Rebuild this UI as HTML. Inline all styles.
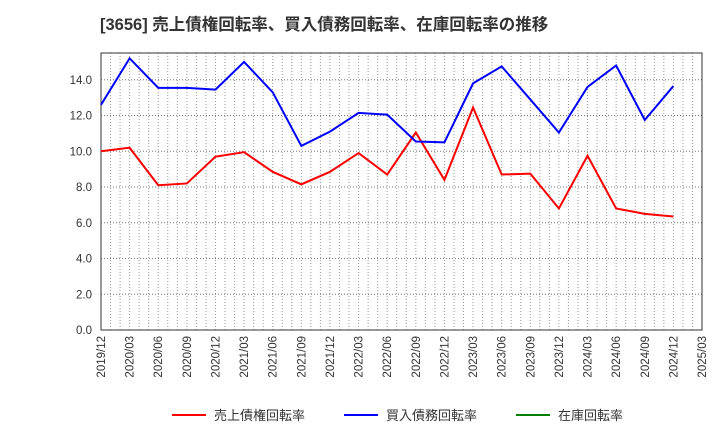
<!DOCTYPE html>
<html><head><meta charset="utf-8"><style>
body{margin:0;background:#fff;font-family:"Liberation Sans","Noto Sans CJK JP",sans-serif;}
</style></head><body>
<svg id="chart" width="720" height="440" xmlns="http://www.w3.org/2000/svg">
<text x="100" y="30" font-size="16.5" font-weight="bold" fill="#333" font-family="Liberation Sans, Noto Sans CJK JP, sans-serif">[3656]  売上債権回転率、買入債務回転率、在庫回転率の推移</text>
<g id="grid"></g><g id="axes"></g><g id="series"></g><g id="legend"></g>
</svg>
<script>
const xLabels=["2019/12","2020/03","2020/06","2020/09","2020/12","2021/03","2021/06","2021/09","2021/12","2022/03","2022/06","2022/09","2022/12","2023/03","2023/06","2023/09","2023/12","2024/03","2024/06","2024/09","2024/12","2025/03"];
const yTicks=[0,2,4,6,8,10,12,14];
const receivables=[10.0,10.2,8.1,8.2,9.7,9.95,8.85,8.15,8.85,9.9,8.7,11.05,8.4,12.45,8.7,8.75,6.8,9.75,6.8,6.5,6.35];
const payables=[12.6,15.2,13.55,13.55,13.45,15.0,13.3,10.3,11.1,12.15,12.05,10.55,10.5,13.8,14.75,12.9,11.05,13.6,14.8,11.75,13.65];
const inventory=[];
const L=101,R=702,T=53,B=330,yMax=15.5;
const NS="http://www.w3.org/2000/svg";
const xq=i=>L+(R-L)*i/(xLabels.length-1);
const xm=m=>L+(R-L)*m/((xLabels.length-1)*3);
const y=v=>B-(B-T)*v/yMax;
function mk(t,a,p){const e=document.createElementNS(NS,t);for(const k in a)e.setAttribute(k,a[k]);p.appendChild(e);return e;}
const grid=document.getElementById('grid'),axes=document.getElementById('axes'),ser=document.getElementById('series'),leg=document.getElementById('legend');
for(let m=1;m<(xLabels.length-1)*3;m++){
 const g=mk('line',{x1:xm(m),x2:xm(m),y1:T,y2:B,stroke:'#999','stroke-width':1,'stroke-dasharray':'1,2'},grid);
 
 
}
yTicks.forEach(v=>{
 if(v>0){const g=mk('line',{x1:L,x2:R,y1:y(v),y2:y(v),stroke:'#777','stroke-width':1,'stroke-dasharray':'1,2'},grid);
 
 }
 const t=mk('text',{x:L-9,y:y(v)+4,'text-anchor':'end','font-size':11.5,fill:'#333'},axes);t.textContent=v.toFixed(1);
 
 
});
xLabels.forEach((s,i)=>{
 const t=mk('text',{transform:`translate(${xq(i)+4},336) rotate(-90)`,'text-anchor':'end','font-size':11.5,fill:'#333'},axes);t.textContent=s;
 
 
});
const f=mk('rect',{x:L,y:T,width:R-L,height:B-T,fill:'none',stroke:'#333','stroke-width':1},axes);


function line(arr,c,name){if(!arr.length)return;
 const p=mk('polyline',{points:arr.map((v,i)=>xq(i)+','+y(v)).join(' '),fill:'none',stroke:c,'stroke-width':2},ser);
 
 }
line(receivables,'#ff0000','receivables-turnover-line');
line(payables,'#0000ff','payables-turnover-line');
line(inventory,'#008000','inventory-turnover-line');
[["売上債権回転率",'#ff0000',172],["買入債務回転率",'#0000ff',344],["在庫回転率",'#008000',516]].forEach(([s,c,x])=>{
 const g=mk('g',{},leg);
 
 
 mk('line',{x1:x,x2:x+34,y1:415,y2:415,stroke:c,'stroke-width':2},g);
 const t=mk('text',{x:x+42,y:420,'font-size':13,fill:'#333'},g);t.textContent=s;
});
</script>
</body></html>
